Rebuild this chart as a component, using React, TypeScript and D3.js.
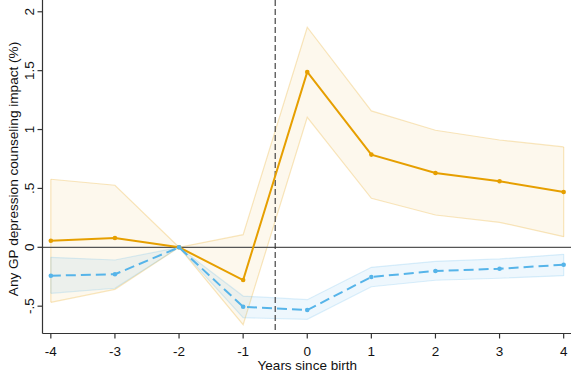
import React from "react";
import * as d3 from "d3";

const years = [-4, -3, -2, -1, 0, 1, 2, 3, 4];

const orangeEst = [0.056, 0.079, 0, -0.278, 1.489, 0.787, 0.631, 0.561, 0.47];
const orangeLo = [-0.467, -0.357, 0, -0.657, 1.104, 0.416, 0.274, 0.212, 0.09];
const orangeHi = [0.578, 0.527, 0, 0.107, 1.869, 1.158, 0.994, 0.911, 0.852];

const blueEst = [-0.241, -0.229, 0, -0.505, -0.533, -0.252, -0.201, -0.182, -0.148];
const blueLo = [-0.391, -0.348, 0, -0.598, -0.612, -0.335, -0.28, -0.263, -0.241];
const blueHi = [-0.085, -0.108, 0, -0.414, -0.445, -0.17, -0.119, -0.099, -0.06];

const yTicks = [-0.5, 0, 0.5, 1, 1.5, 2];
const yTickLabels = ["-.5", "0", ".5", "1", "1.5", "2"];
const xTicks = [-4, -3, -2, -1, 0, 1, 2, 3, 4];

const W = 571;
const H = 377;
const left = 42.5;
const right = 572;
const top = 0;
const bottom = 333.5;

const ORANGE = "#E69F00";
const BLUE = "#56B4E9";
const FONT = "'Liberation Sans', Arial, sans-serif";

export default function App() {
  const x = d3.scaleLinear().domain([-4.13, 4.13]).range([left, right]);
  const y = d3.scaleLinear().domain([-0.732, 2.1]).range([bottom, top]);

  const band = (lo: number[], hi: number[]) =>
    d3
      .area<number>()
      .x((d) => x(d))
      .y0((_, i) => y(lo[i]))
      .y1((_, i) => y(hi[i]))(years) as string;

  const edge = (vals: number[]) =>
    d3
      .line<number>()
      .x((d) => x(d))
      .y((_, i) => y(vals[i]))(years) as string;

  return (
    <svg
      width={W}
      height={H}
      style={{ position: "absolute", left: 0, top: 0, background: "#fff" }}
      fontFamily={FONT}
    >
      {/* confidence bands */}
      <path d={band(orangeLo, orangeHi)} fill={ORANGE} fillOpacity={0.07} />
      <path d={edge(orangeLo)} fill="none" stroke={ORANGE} strokeOpacity={0.25} strokeWidth={1.2} />
      <path d={edge(orangeHi)} fill="none" stroke={ORANGE} strokeOpacity={0.25} strokeWidth={1.2} />
      <line x1={x(4)} x2={x(4)} y1={y(orangeLo[8])} y2={y(orangeHi[8])} stroke={ORANGE} strokeOpacity={0.25} strokeWidth={1.2} />
      <line x1={x(-4)} x2={x(-4)} y1={y(orangeLo[0])} y2={y(orangeHi[0])} stroke={ORANGE} strokeOpacity={0.25} strokeWidth={1.2} />

      <path d={band(blueLo, blueHi)} fill={BLUE} fillOpacity={0.1} />
      <path d={edge(blueLo)} fill="none" stroke={BLUE} strokeOpacity={0.2} strokeWidth={1.2} />
      <path d={edge(blueHi)} fill="none" stroke={BLUE} strokeOpacity={0.2} strokeWidth={1.2} />
      <line x1={x(4)} x2={x(4)} y1={y(blueLo[8])} y2={y(blueHi[8])} stroke={BLUE} strokeOpacity={0.2} strokeWidth={1.2} />
      <line x1={x(-4)} x2={x(-4)} y1={y(blueLo[0])} y2={y(blueHi[0])} stroke={BLUE} strokeOpacity={0.2} strokeWidth={1.2} />

      {/* zero reference line */}
      <line x1={left} x2={W} y1={y(0)} y2={y(0)} stroke="#555" strokeWidth={1.2} />

      {/* birth marker */}
      <line x1={x(-0.5)} x2={x(-0.5)} y1={top} y2={bottom} stroke="#333" strokeWidth={1.1} strokeDasharray="6,3" />

      {/* point estimates */}
      <path d={edge(orangeEst)} fill="none" stroke={ORANGE} strokeWidth={2} />
      {years.map((d, i) => (
        <circle key={"o" + d} cx={x(d)} cy={y(orangeEst[i])} r={2.3} fill={ORANGE} />
      ))}
      <path d={edge(blueEst)} fill="none" stroke={BLUE} strokeWidth={2} strokeDasharray="10,5" />
      {years.map((d, i) => (
        <circle key={"b" + d} cx={x(d)} cy={y(blueEst[i])} r={2.3} fill={BLUE} />
      ))}

      {/* y axis */}
      <line x1={left} x2={left} y1={top} y2={bottom} stroke="#333" strokeWidth={1.2} />
      {yTicks.map((t, i) => (
        <g key={"y" + t}>
          <line x1={left - 5} x2={left} y1={y(t)} y2={y(t)} stroke="#333" strokeWidth={1.2} />
          <text
            transform={`translate(${left - 9},${y(t)}) rotate(-90)`}
            textAnchor="middle"
            fontSize={13.5}
            fill="#111"
          >
            {yTickLabels[i]}
          </text>
        </g>
      ))}
      <text
        transform={`translate(17.5,169) rotate(-90)`}
        textAnchor="middle"
        fontSize={13.6}
        fill="#111"
      >
        Any GP depression counseling impact (%)
      </text>

      {/* x axis */}
      <line x1={left} x2={W} y1={bottom} y2={bottom} stroke="#333" strokeWidth={1.2} />
      {xTicks.map((t) => (
        <g key={"x" + t}>
          <line x1={x(t)} x2={x(t)} y1={bottom} y2={bottom + 5} stroke="#333" strokeWidth={1.2} />
          <text x={x(t)} y={bottom + 22} textAnchor="middle" fontSize={13.5} fill="#111">
            {t}
          </text>
        </g>
      ))}
      <text x={(left + right) / 2} y={bottom + 36.5} textAnchor="middle" fontSize={13.5} fill="#111">
        Years since birth
      </text>
    </svg>
  );
}
